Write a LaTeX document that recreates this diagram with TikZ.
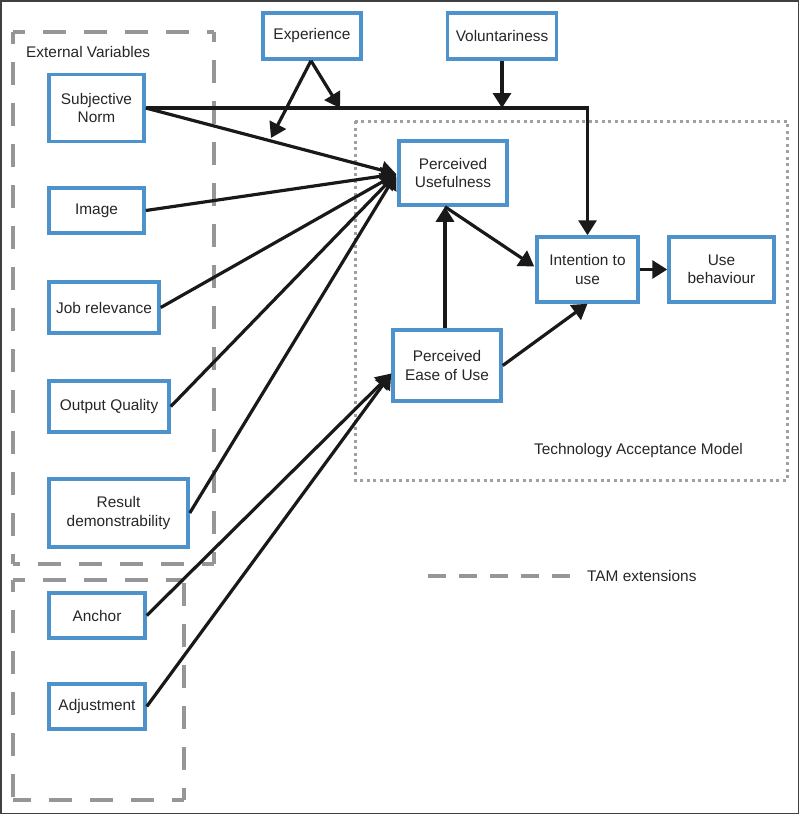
\documentclass[tikz,border=0pt]{standalone}
\usepackage{fontspec}
\setmainfont{Liberation Sans}
\usetikzlibrary{arrows.meta,calc}
\definecolor{boxblue}{RGB}{78,146,204}
\definecolor{txt}{RGB}{38,38,38}
\definecolor{dashgray}{RGB}{150,150,150}
\definecolor{dotgray}{RGB}{160,160,160}
\definecolor{arrowblack}{RGB}{25,25,25}
\begin{document}
\begin{tikzpicture}[x=1pt,y=-1pt,
  varbox/.style={draw=boxblue,line width=3.5pt,fill=white,align=center,text=txt,
    font=\fontsize{15.4}{18.5}\selectfont,inner sep=0pt},
  lbl/.style={text=txt,font=\fontsize{15.4}{18.5}\selectfont,inner sep=0pt},
  arr/.style={draw=arrowblack,line width=3.2pt,-{Triangle[length=15pt,width=18pt]}},
  extside/.style={draw=dashgray,line width=3.5pt,dash pattern=on 23pt off 18pt,dash phase=11pt},
  tambox/.style={draw=dotgray,line width=3pt,dash pattern=on 3pt off 3.5pt}]
\useasboundingbox (0,0) rectangle (800,815);
\draw[line width=1.5pt,draw=black!75] (0.75,0.75) rectangle (798.5,813.5);

% group boxes (sides drawn from each corner)
\coordinate (ea) at (13,32);  \coordinate (eb) at (214,32);
\coordinate (ec) at (214,564); \coordinate (ed) at (13,564);
\draw[extside] (ea) -- (eb); \draw[extside] (ea) -- (ed);
\draw[extside] (ec) -- (eb); \draw[extside] (ec) -- (ed);
\coordinate (ta) at (13,580);  \coordinate (tb) at (184,580);
\coordinate (tc) at (184,800); \coordinate (td) at (13,800);
\draw[extside] (ta) -- (tb); \draw[extside] (ta) -- (td);
\draw[extside] (tc) -- (tb); \draw[extside] (tc) -- (td);
\draw[tambox] (355,121) rectangle (787,480);

\node[lbl,anchor=west] (extlbl) at (26,52) {External Variables};
\node[lbl] (tamlbl) at (638.5,451) {Technology Acceptance Model};
\coordinate (lega) at (428,576);
\coordinate (legb) at (571,576);
\draw[draw=dashgray,line width=3.5pt,dash pattern=on 18pt off 13pt] (lega) -- (legb);
\node[lbl,anchor=west] (leglbl) at (587,576) {TAM extensions};

% nodes
\node[varbox,minimum width=98pt,minimum height=46pt] (exp) at (312,36) {Experience};
\node[varbox,minimum width=109pt,minimum height=46pt] (vol) at (502,36) {Voluntariness};
\node[varbox,minimum width=95pt,minimum height=67pt] (sn) at (96.5,108) {Subjective\\Norm};
\node[varbox,minimum width=95pt,minimum height=45pt] (img) at (96.5,210.5) {Image};
\node[varbox,minimum width=110pt,minimum height=51pt] (job) at (104,307.5) {Job relevance};
\node[varbox,minimum width=120pt,minimum height=51pt] (oq) at (109,406.5) {Output Quality};
\node[varbox,minimum width=139pt,minimum height=68pt] (rd) at (118.5,513) {Result\\demonstrability};
\node[varbox,minimum width=96pt,minimum height=45pt] (anc) at (97,615.5) {Anchor};
\node[varbox,minimum width=96pt,minimum height=45pt] (adj) at (97,706.5) {Adjustment};
\node[varbox,minimum width=108pt,minimum height=64pt] (pu) at (453,173) {Perceived\\Usefulness};
\node[varbox,minimum width=108pt,minimum height=71pt] (peou) at (447,365.5) {Perceived\\Ease of Use};
\node[varbox,minimum width=101pt,minimum height=65pt] (int) at (587.5,269.5) {Intention to\\use};
\node[varbox,minimum width=105pt,minimum height=65pt] (ub) at (721.5,269.5) {Use\\behaviour};

% helper coordinates
\coordinate (puin) at ($(pu.west)+(-1,1)$);
\coordinate (peouin) at ($(peou.west)+(0,8)$);
\coordinate (pub) at ($(pu.south)+(-8,0)$);
\coordinate (intin) at ($(int.west)+(-1,-3)$);
\coordinate (exptop) at ($(exp.south)+(-1,0)$);
\coordinate (expr) at ($(exp.south)+(28,0)$);
\coordinate (exph) at (expr |- sn.east);
\coordinate (expl) at ($($(sn.east)!0.5!(puin)$)+(0,-3)$);

% connectors
\draw[arr] (sn.east) -| (int.north);
\draw[arr] (vol.south) -- (vol.south |- sn.east);
\draw[arr] (exptop) -- (exph);
\draw[arr] (exptop) -- (expl);
\draw[arr] (sn.east) -- (puin);
\draw[arr] (img.east) -- (puin);
\draw[arr] (job.east) -- (puin);
\draw[arr] (oq.east) -- (puin);
\draw[arr] (rd.east) -- (puin);
\draw[arr] (anc.east) -- (peouin);
\draw[arr] (adj.east) -- (peouin);
\draw[arr] (pub |- peou.north) -- (pub);
\draw[arr] (pub) -- (intin);
\draw[arr] (peou.east) -- (int.south);
\draw[arr] (int.east) -- (ub.west);
\end{tikzpicture}
\end{document}
